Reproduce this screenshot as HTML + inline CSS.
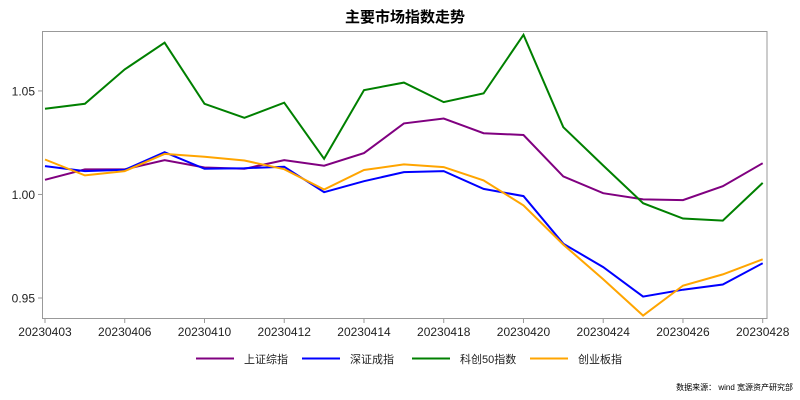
<!DOCTYPE html>
<html><head><meta charset="utf-8">
<style>
body{margin:0;background:#fff;}
svg{display:block;font-family:"Liberation Sans","Noto Sans CJK SC",sans-serif;}
</style></head>
<body>
<svg id="chart" width="800" height="400">
<text x="405" y="22" text-anchor="middle" font-size="15" font-weight="bold" fill="#000">主要市场指数走势</text>
<rect x="42.5" y="31.5" width="724.5" height="287" fill="none" stroke="#999"/>
<g id="axes"></g>
<g id="series"></g>
<g id="legend"></g>
<text x="793" y="390" text-anchor="end" font-size="8" fill="#000">数据来源：  wind 宽源资产研究部</text>
</svg>
<script>
const categories=["20230403","20230404","20230406","20230407","20230410","20230411","20230412","20230413","20230414","20230417","20230418","20230419","20230420","20230421","20230424","20230425","20230426","20230427","20230428"];
const tickLabels=["20230403","20230406","20230410","20230412","20230414","20230418","20230420","20230424","20230426","20230428"];
const yTicks=[0.95,1.00,1.05];
const seriesNames=["上证综指","深证成指","科创50指数","创业板指"];
const seriesColors=["#800080","#0000ff","#008000","#ffa500"];
const sh=[1.0071,1.0121,1.0121,1.0166,1.0130,1.0124,1.0166,1.0139,1.0200,1.0343,1.0367,1.0296,1.0287,1.0087,1.0006,0.9976,0.9973,1.0040,1.0151];
const sz=[1.0137,1.0113,1.0119,1.0204,1.0124,1.0127,1.0134,1.0011,1.0064,1.0108,1.0113,1.0027,0.9992,0.9762,0.9649,0.9507,0.9540,0.9565,0.9668];
const kc50=[1.0414,1.0438,1.0604,1.0733,1.0438,1.0370,1.0443,1.0172,1.0504,1.0540,1.0446,1.0488,1.0771,1.0325,1.0140,0.9958,0.9884,0.9874,1.0056];
const cyb=[1.0169,1.0092,1.0113,1.0196,1.0182,1.0164,1.0122,1.0024,1.0118,1.0145,1.0132,1.0068,0.9947,0.9758,0.9591,0.9415,0.9560,0.9614,0.9687];
const allSeries=[sh,sz,kc50,cyb];
const NS="http://www.w3.org/2000/svg";
const x0=45,x1=762.7,yMin=0.9401,yMax=1.0787,pTop=31.5,pBot=318.5;
function xScale(i){return x0+(x1-x0)*i/(categories.length-1);}
function yScale(v){return pBot-(v-yMin)/(yMax-yMin)*(pBot-pTop);}
function mk(tag,attrs,parent){const e=document.createElementNS(NS,tag);for(const k in attrs)e.setAttribute(k,attrs[k]);parent.appendChild(e);return e;}
const axes=document.getElementById('axes');
yTicks.forEach(t=>{
  const y=yScale(t);
  const l=mk('line',{x1:38,x2:42.5,y1:y,y2:y,stroke:'#999'},axes);
  
  
  const tx=mk('text',{x:35,y:y+4.5,'text-anchor':'end','font-size':12,fill:'#222'},axes);
  
  
  tx.textContent=t.toFixed(2);
});
tickLabels.forEach(lab=>{
  const i=categories.indexOf(lab);const x=xScale(i);
  const l=mk('line',{x1:x,x2:x,y1:318.5,y2:323,stroke:'#999'},axes);
  
  
  const tx=mk('text',{x:x,y:336,'text-anchor':'middle','font-size':12,fill:'#222'},axes);
  
  
  tx.textContent=lab;
});
const sg=document.getElementById('series');
allSeries.forEach((s,k)=>{
  const pts=s.map((v,i)=>xScale(i).toFixed(1)+','+yScale(v).toFixed(1)).join(' ');
  const p=mk('polyline',{points:pts,fill:'none',stroke:seriesColors[k],'stroke-width':2,'stroke-linejoin':'miter'},sg);
  
  
});
const lg=document.getElementById('legend');
const lx=[196,302,412,530];
seriesNames.forEach((n,k)=>{
  const g=mk('g',{},lg);
  
  
  mk('line',{x1:lx[k],x2:lx[k]+38,y1:358.5,y2:358.5,stroke:seriesColors[k],'stroke-width':2},g);
  const t=mk('text',{x:lx[k]+48,y:363,'font-size':11,fill:'#222'},g);
  t.textContent=n;
});
</script>
</body></html>
